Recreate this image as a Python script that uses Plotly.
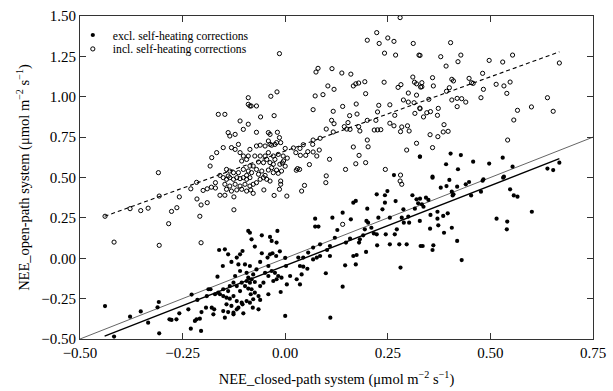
import plotly.graph_objects as go

# ---- data ----
excl_points = [
    (-0.439,-0.296),(-0.417,-0.485),(-0.378,-0.362),(-0.352,-0.329),(-0.334,-0.399),(-0.308,-0.271),
    (-0.311,-0.304),(-0.307,-0.465),(-0.282,-0.378),(-0.277,-0.382),(-0.265,-0.378),(-0.258,-0.341),
    (-0.228,-0.225),(-0.236,-0.316),(-0.230,-0.436),(-0.216,-0.378),(-0.208,-0.374),(-0.205,-0.450),
    (-0.214,-0.258),(-0.204,-0.333),(-0.193,-0.306),(-0.187,-0.192),(-0.182,-0.192),(-0.191,-0.234),
    (-0.179,-0.306),(-0.173,-0.316),(-0.171,-0.223),(-0.165,-0.114),(-0.161,0.051),(-0.147,0.055),
    (-0.152,-0.048),(-0.139,0.024),(-0.131,-0.023),(-0.118,0.004),(-0.110,0.024),(-0.104,0.045),
    (-0.090,0.169),(-0.086,0.158),(-0.114,-0.038),(-0.122,-0.110),(-0.110,-0.079),(-0.098,-0.038),
    (-0.094,-0.090),(-0.090,-0.120),(-0.159,-0.223),(-0.151,-0.234),(-0.143,-0.244),(-0.135,-0.250),
    (-0.126,-0.234),(-0.118,-0.265),(-0.106,-0.275),(-0.094,-0.265),(-0.143,-0.285),(-0.131,-0.295),
    (-0.114,-0.306),(-0.151,-0.327),(-0.139,-0.333),(-0.126,-0.337),(-0.118,-0.316),(-0.147,-0.368),
    (-0.126,-0.347),(-0.104,-0.285),(-0.102,-0.341),(-0.090,-0.188),(-0.086,-0.151),(-0.118,-0.172),
    (-0.106,-0.151),(-0.098,-0.172),(-0.094,-0.141),(-0.126,-0.151),(-0.135,-0.172),(-0.151,-0.192),
    (-0.163,-0.213),(-0.139,-0.203),(-0.110,-0.203),(-0.084,-0.223),(-0.220,-0.388),(-0.175,-0.347),
    (-0.082,0.117),(-0.074,0.072),(-0.057,0.142),(-0.037,0.132),(-0.033,0.107),(-0.019,0.169),
    (-0.021,0.097),(-0.057,0.031),(-0.061,-0.023),(-0.043,0.004),(-0.037,0.024),(-0.031,0.031),
    (-0.022,0.014),(-0.013,0.043),(-0.041,-0.048),(-0.033,-0.079),(-0.025,-0.090),(-0.017,-0.110),
    (-0.009,-0.120),(-0.021,-0.130),(-0.029,-0.141),(-0.041,-0.110),(-0.049,-0.090),(-0.053,-0.151),
    (-0.061,-0.172),(-0.074,-0.147),(-0.082,-0.130),(-0.078,-0.100),(-0.070,-0.069),(-0.086,-0.048),
    (-0.082,-0.192),(-0.074,-0.213),(-0.065,-0.234),(-0.078,-0.254),(-0.061,-0.258),(-0.086,-0.275),
    (-0.079,-0.306),(-0.065,-0.316),(-0.041,-0.223),(-0.011,-0.209),(0.004,-0.162),(0.000,-0.357),
    (0.002,-0.048),(0.000,0.002),(0.012,-0.110),(0.028,-0.130),(0.036,-0.162),(0.040,-0.100),
    (0.036,-0.048),(0.044,-0.052),(0.054,-0.065),(0.032,0.004),(0.044,0.004),(0.056,0.035),
    (0.068,0.066),(0.068,-0.007),(0.077,0.004),(0.085,0.014),(0.085,0.086),(0.073,0.245),
    (0.073,0.196),(0.081,0.196),(0.099,-0.093),(0.102,0.051),(0.109,0.076),(0.109,0.014),
    (0.115,0.251),(0.121,0.127),(0.127,0.175),(0.140,0.282),(0.146,-0.044),(0.140,-0.176),
    (0.110,-0.368),(0.148,0.097),(0.158,0.121),(0.160,0.241),(0.166,0.344),(0.172,0.355),
    (0.166,0.014),(0.172,-0.038),(0.174,0.020),(0.180,0.097),(0.182,0.117),(0.190,0.142),
    (0.194,0.179),(0.197,0.039),(0.198,0.231),(0.202,0.220),(0.200,0.307),(0.210,0.189),
    (0.216,0.154),(0.223,0.148),(0.224,0.080),(0.227,0.251),(0.223,0.396),(0.237,0.303),
    (0.243,0.344),(0.243,0.390),(0.249,0.416),(0.245,0.148),(0.255,0.251),(0.255,0.086),
    (0.267,0.148),(0.269,0.354),(0.272,0.179),(0.278,0.086),(0.281,-0.058),(0.284,0.251),
    (0.288,0.303),(0.289,0.220),(0.296,0.086),(0.300,0.258),(0.302,0.220),(0.310,0.390),
    (0.316,0.307),(0.320,0.365),(0.324,0.340),(0.330,0.076),(0.328,0.231),
    (0.359,0.499),(0.3285,0.369),(0.333,0.334),(0.337,0.319),(0.343,0.375),(0.349,0.361),
    (0.354,0.268),(0.353,0.183),(0.371,0.288),(0.371,0.245),(0.373,0.204),(0.385,0.262),
    (0.387,0.158),(0.396,0.278),(0.406,0.189),(0.379,0.437),(0.393,0.447),(0.400,0.485),
    (0.406,0.412),(0.408,0.389),(0.410,0.396),(0.419,0.443),(0.419,0.107),(0.430,-0.011),
    (0.440,0.458),(0.448,0.472),(0.453,0.389),(0.477,0.412),(0.481,0.480),(0.483,0.489),
    (0.531,0.499),(0.515,0.245),(0.541,0.227),(0.540,0.179),(0.548,0.427),(0.557,0.389),
    (0.566,0.381),(0.601,0.288),(0.335,0.076),(0.361,0.080),(0.359,0.051),
    (0.3285,0.629),(0.359,0.505),(0.392,0.582),(0.403,0.648),(0.428,0.639),(0.421,0.551),
    (0.458,0.598),(0.497,0.586),(0.530,0.623),(0.533,0.505),(0.554,0.567),(0.639,0.555),
    (0.653,0.546),(0.668,0.592),(0.265,0.515),(0.328,0.629),
]

incl_points = [
    (-0.090,0.994),(-0.090,0.953),(-0.083,0.943),(-0.163,0.891),(-0.147,0.891),(-0.110,0.850),
    (-0.090,0.830),(-0.102,0.798),(-0.139,0.778),(-0.135,0.757),(-0.122,0.767),(-0.309,0.530),
    (-0.151,0.685),(-0.131,0.685),(-0.122,0.674),(-0.114,0.705),(-0.167,0.654),(-0.179,0.623),
    (-0.110,0.654),(-0.102,0.633),(-0.090,0.633),(-0.094,0.612),(-0.106,0.602),(-0.183,0.571),
    (-0.143,0.550),(-0.135,0.540),(-0.126,0.530),(-0.114,0.530),(-0.102,0.550),(-0.090,0.540),
    (-0.159,0.513),(-0.139,0.509),(-0.094,0.513),(-0.086,0.571),
    (-0.439,0.260),(-0.378,0.307),(-0.352,0.295),(-0.334,0.310),(-0.307,0.385),(-0.258,0.380),
    (-0.277,0.290),(-0.264,0.313),(-0.284,0.214),(-0.417,0.100),(-0.307,0.080),(-0.205,0.096),
    (-0.208,0.260),(-0.125,0.300),(-0.230,0.430),(-0.216,0.470),(-0.215,0.367),(-0.205,0.330),
    (-0.190,0.344),(-0.200,0.420),(-0.190,0.430),(-0.180,0.440),(-0.170,0.435),(-0.170,0.468),
    (-0.159,0.390),(-0.147,0.390),(-0.125,0.380),
    (-0.151,0.499),(-0.143,0.489),(-0.135,0.499),(-0.126,0.489),(-0.118,0.499),(-0.110,0.493),
    (-0.102,0.499),(-0.094,0.489),(-0.086,0.499),(-0.147,0.458),(-0.135,0.447),(-0.122,0.458),
    (-0.110,0.447),(-0.098,0.458),(-0.086,0.447),(-0.143,0.427),(-0.131,0.416),(-0.118,0.423),
    (-0.106,0.427),(-0.094,0.416),(-0.084,0.423),
    (-0.014,1.267),(0.200,1.350),(0.223,1.397),(0.229,1.330),(0.250,1.364),(0.265,1.343),
    (0.280,1.490),(0.242,1.270),(0.269,1.258),(0.312,1.330),(0.326,1.258),(0.075,1.153),
    (0.080,1.176),(0.114,1.174),(0.138,1.147),(0.160,1.140),(0.104,1.067),(0.119,1.046),
    (0.073,1.005),(0.092,1.013),(-0.020,1.030),(-0.035,1.003),(0.166,1.067),(0.172,1.080),
    (0.179,1.085),(0.194,1.093),(0.196,1.019),(0.241,1.090),(0.275,1.058),(0.282,1.075),
    (0.311,1.122),(0.315,1.090),(0.320,1.080),(0.330,1.060),(0.300,1.023),(0.320,1.010),
    (-0.086,0.943),(-0.070,0.943),(-0.060,0.875),(-0.027,0.883),(-0.070,0.780),(0.068,0.920),
    (0.117,0.910),(0.140,0.940),(0.173,0.955),(0.175,0.893),(0.157,0.883),(0.228,0.947),
    (0.255,0.950),(0.225,0.906),(0.288,0.980),(0.300,0.967),(0.314,0.963),(0.328,0.930),
    (0.267,0.885),(0.316,0.897),(0.113,0.854),(0.119,0.833),(0.153,0.840),(0.144,0.815),
    (0.150,0.800),(0.158,0.798),(0.100,0.800),(0.117,0.782),(0.179,0.815),(0.182,0.788),
    (0.200,0.854),(0.221,0.854),(0.217,0.794),(0.225,0.795),(0.233,0.796),(0.255,0.836),
    (0.265,0.820),(0.284,0.813),(0.281,0.784),(0.298,0.820),(0.302,0.788),(0.320,0.712),
    (0.296,0.670),(0.200,0.732),(0.202,0.690),(0.166,0.689),(0.180,0.637),(0.196,0.592),
    (0.172,0.585),(0.147,0.550),(0.100,0.510),(0.244,0.550),(0.281,0.515),(0.108,0.613),
    (0.077,0.633),(0.083,0.670),(0.068,0.658),(0.055,0.660),(0.068,0.732),(0.085,0.743),
    (0.067,0.705),(0.044,0.703),(0.036,0.680),(0.026,0.654),(0.020,0.683),(0.037,0.637),
    (0.050,0.637),(0.059,0.580),(0.000,0.680),(0.005,0.620),(0.030,0.555),(0.035,0.550),
    (0.027,0.545),(-0.004,0.602),(-0.007,0.590),(0.000,0.570),
    (-0.041,0.778),(-0.037,0.767),(-0.019,0.780),(-0.014,0.747),(-0.011,0.716),(-0.021,0.716),
    (-0.037,0.705),(-0.041,0.726),(-0.070,0.695),(-0.061,0.700),(-0.049,0.695),(-0.033,0.700),
    (-0.025,0.705),(-0.086,0.674),(-0.074,0.633),(-0.061,0.633),(-0.049,0.633),(-0.041,0.654),
    (-0.029,0.633),(-0.017,0.643),(-0.005,0.633),(-0.025,0.612),(-0.045,0.612),(-0.065,0.596),
    (-0.053,0.592),(-0.037,0.592),(-0.029,0.582),(-0.013,0.582),(-0.078,0.571),(-0.070,0.550),
    (-0.057,0.540),(-0.041,0.546),(-0.033,0.561),(-0.021,0.546),(-0.009,0.540),(-0.082,0.530),
    (-0.065,0.520),(-0.049,0.513),(-0.029,0.530),(-0.017,0.526),
    (-0.078,0.458),(-0.070,0.468),(-0.061,0.489),(-0.053,0.499),(-0.045,0.489),(-0.037,0.478),
    (-0.052,0.423),(-0.078,0.402),(-0.027,0.389),(-0.011,0.478),(-0.011,0.458),(-0.014,0.427),
    (0.004,0.385),(0.040,0.416),(0.047,0.451),(0.099,0.468),(0.140,0.210),(0.280,0.478),
    (0.284,0.458),
    (0.3285,1.256),(0.379,1.248),(0.403,1.335),(0.428,1.258),(0.421,1.217),(0.392,1.190),
    (0.497,1.225),(0.530,1.215),(0.554,1.258),(0.668,1.209),(0.359,1.118),(0.333,1.087),
    (0.333,1.062),(0.361,1.067),(0.406,1.108),(0.410,1.098),(0.400,1.056),(0.393,1.034),
    (0.448,1.114),(0.454,1.087),(0.458,1.083),(0.481,1.145),(0.483,1.046),(0.514,1.077),
    (0.533,1.067),(0.548,1.091),(0.540,1.021),(0.350,0.984),(0.406,0.980),(0.419,0.990),
    (0.430,0.988),(0.440,0.967),(0.477,0.994),(0.3285,0.926),(0.345,0.901),(0.354,0.908),
    (0.337,0.875),(0.373,0.928),(0.371,0.885),(0.419,0.939),(0.387,0.827),(0.385,0.782),
    (0.397,0.786),(0.353,0.765),(0.372,0.753),(0.566,0.916),(0.557,0.856),(0.600,0.937),
    (0.639,0.994),(0.653,0.910),(0.542,0.732),(0.359,0.685),
]

excl_x = [p[0] for p in excl_points]
excl_y = [p[1] for p in excl_points]
incl_x = [p[0] for p in incl_points]
incl_y = [p[1] for p in incl_points]

# regression lines: (slope, intercept, x_start, x_end)
fit_excl = (0.992, -0.046, -0.44, 0.668)
fit_incl = (0.919, 0.664, -0.44, 0.668)
one_to_one = (1.0, 0.0, -0.50, 0.75)

tick_vals_x = [-0.50, -0.25, 0.00, 0.25, 0.50, 0.75]
tick_vals_y = [-0.50, -0.25, 0.00, 0.25, 0.50, 0.75, 1.00, 1.25, 1.50]

def line_pts(f):
    s, b, x0, x1 = f
    return [x0, x1], [s * x0 + b, s * x1 + b]

FONT = "Liberation Serif"

fig = go.Figure()

lx, ly = line_pts(one_to_one)
fig.add_trace(go.Scatter(x=lx, y=ly, mode="lines", line=dict(color="#222", width=0.7),
                         showlegend=False, hoverinfo="skip"))
lx, ly = line_pts(fit_excl)
fig.add_trace(go.Scatter(x=lx, y=ly, mode="lines", line=dict(color="black", width=1.4),
                         showlegend=False, hoverinfo="skip"))
lx, ly = line_pts(fit_incl)
fig.add_trace(go.Scatter(x=lx, y=ly, mode="lines", line=dict(color="black", width=1.1, dash="4px,3px"),
                         showlegend=False, hoverinfo="skip"))

fig.add_trace(go.Scatter(x=excl_x, y=excl_y, mode="markers", name="excl. self-heating corrections",
                         marker=dict(symbol="circle", size=4.2, color="black"), legend="legend"))
fig.add_trace(go.Scatter(x=incl_x, y=incl_y, mode="markers", name="incl. self-heating corrections",
                         marker=dict(symbol="circle-open", size=4.2, color="black", line=dict(width=1)),
                         legend="legend2"))

axis_common = dict(
    showgrid=False, zeroline=False, showline=True, linecolor="#333", linewidth=1,
    mirror="ticks", ticks="inside", ticklen=6, tickcolor="#333", tickwidth=1,
    tickformat=".2f", tickfont=dict(family=FONT, size=15, color="black"),
    automargin=False,
)

leg_common = dict(xanchor="left", yanchor="top", bgcolor="rgba(0,0,0,0)",
                  font=dict(family=FONT, size=11.7, color="black"), itemwidth=30)

fig.update_layout(
    width=613, height=391,
    margin=dict(l=80, r=20, t=16, b=52),
    paper_bgcolor="white", plot_bgcolor="white",
    font=dict(family=FONT, color="black"),
    showlegend=True,
    legend=dict(x=-0.014, y=0.986, **leg_common),
    legend2=dict(x=-0.014, y=0.943, **leg_common),
    xaxis=dict(range=[-0.5, 0.75], tickvals=tick_vals_x,
               title=dict(text="NEE_closed-path system (μmol m<sup>−2</sup> s<sup>−1</sup>)",
                          font=dict(family=FONT, size=14.5), standoff=13),
               **axis_common),
    yaxis=dict(range=[-0.5, 1.5], tickvals=tick_vals_y,
               title=dict(text="NEE_open-path system (μmol m<sup>−2</sup> s<sup>−1</sup>)",
                          font=dict(family=FONT, size=14.5), standoff=8),
               **axis_common),
)

fig.write_html("out.html")
